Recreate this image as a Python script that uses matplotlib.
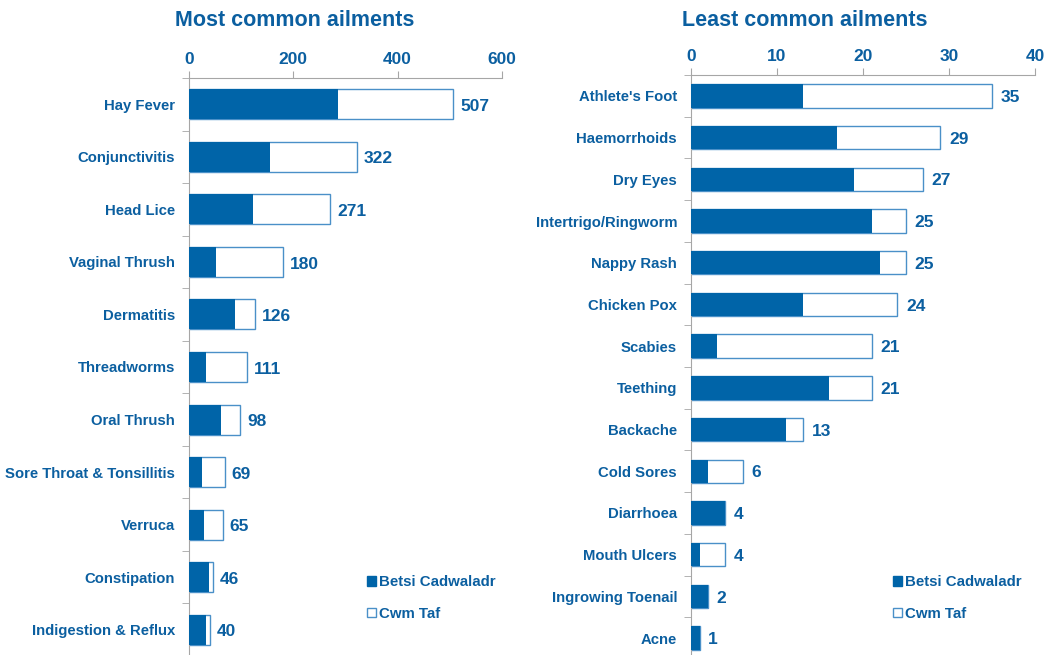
import numpy as np
import matplotlib
matplotlib.use("Agg")
import matplotlib.pyplot as plt
from matplotlib.patches import Patch

#-------------------------------------------data
most_names = ['Hay Fever', 'Conjunctivitis', 'Head Lice', 'Vaginal Thrush', 'Dermatitis',
              'Threadworms', 'Oral Thrush', 'Sore Throat & Tonsillitis', 'Verruca',
              'Constipation', 'Indigestion & Reflux']
most_total = [507, 322, 271, 180, 126, 111, 98, 69, 65, 46, 40]
most_betsi = [285, 155, 123, 52, 89, 33, 62, 25, 29, 39, 33]

least_names = ["Athlete's Foot", 'Haemorrhoids', 'Dry Eyes', 'Intertrigo/Ringworm', 'Nappy Rash',
               'Chicken Pox', 'Scabies', 'Teething', 'Backache', 'Cold Sores', 'Diarrhoea',
               'Mouth Ulcers', 'Ingrowing Toenail', 'Acne']
least_total = [35, 29, 27, 25, 25, 24, 21, 21, 13, 6, 4, 4, 2, 1]
least_betsi = [13, 17, 19, 21, 22, 13, 3, 16, 11, 2, 4, 1, 2, 1]

#-------------------------------------------style
DARK = '#0064A8'
TXT = '#0B5FA0'
EDGE = '#4A90C8'
GREY = '#A6A6A6'
plt.rcParams['font.family'] = ['Liberation Sans', 'DejaVu Sans']
plt.rcParams['font.weight'] = 'bold'

W, H = 1048, 655
fig = plt.figure(figsize=(W / 100, H / 100), dpi=100)


def px_axes(x0, y0, x1, y1):
    return fig.add_axes([x0 / W, 1 - y1 / H, (x1 - x0) / W, (y1 - y0) / H])


def draw(ax, names, total, betsi, xmax, step, label_off, bar_h):
    n = len(names)
    y = np.arange(n)
    ax.barh(y, total, height=bar_h, color='white', edgecolor=EDGE, linewidth=1.0, zorder=2)
    ax.barh(y, betsi, height=bar_h, color=DARK, edgecolor='none', zorder=3)
    for yi, t in zip(y, total):
        ax.text(t + label_off, yi + 0.04, str(t), va='center', ha='left', color=TXT,
                fontsize=12.5, fontweight='bold')
    ax.set_xlim(0, xmax)
    ax.set_ylim(n - 0.5, -0.5)
    ax.xaxis.tick_top()
    ax.set_xticks(np.arange(0, xmax + 1, step))
    ax.tick_params(axis='x', colors=GREY, labelcolor=TXT, labelsize=12.5, length=5, pad=3)
    for lab in ax.get_xticklabels():
        lab.set_fontweight('bold')
    ax.set_yticks(y)
    ax.set_yticklabels(names)
    ax.set_yticks(np.arange(-0.5, n, 1), minor=True)
    ax.tick_params(axis='y', which='major', length=0, pad=10, labelcolor=TXT, labelsize=10.7)
    ax.tick_params(axis='y', which='minor', length=5, colors=GREY)
    for lab in ax.get_yticklabels():
        lab.set_fontweight('bold')
    for s in ['right', 'bottom']:
        ax.spines[s].set_visible(False)
    for s in ['top', 'left']:
        ax.spines[s].set_color(GREY)
    ax.set_facecolor('none')


ax1 = px_axes(189, 78, 502, 656)
draw(ax1, most_names, most_total, most_betsi, 600, 200, 13, 0.57)
ax2 = px_axes(691, 75, 1035, 659)
draw(ax2, least_names, least_total, least_betsi, 40, 10, 1.0, 0.56)

fig.text(295 / W, 1 - 20 / H, 'Most common ailments', ha='center', va='center',
         color=TXT, fontsize=15.5, fontweight='bold')
fig.text(805 / W, 1 - 20 / H, 'Least common ailments', ha='center', va='center',
         color=TXT, fontsize=15.5, fontweight='bold')

handles = [Patch(facecolor=DARK, edgecolor=DARK, label='Betsi Cadwaladr'),
           Patch(facecolor='white', edgecolor=EDGE, label='Cwm Taf')]
for x0 in (353, 879):
    leg = fig.legend(handles=handles, loc='upper left', bbox_to_anchor=(x0 / W, 1 - 562 / H),
                     frameon=False, handlelength=0.6, handleheight=0.6, handletextpad=0.25,
                     labelspacing=1.15, fontsize=10.8)
    for t in leg.get_texts():
        t.set_color(TXT)
        t.set_fontweight('bold')

fig.savefig('out.png', dpi=100)
